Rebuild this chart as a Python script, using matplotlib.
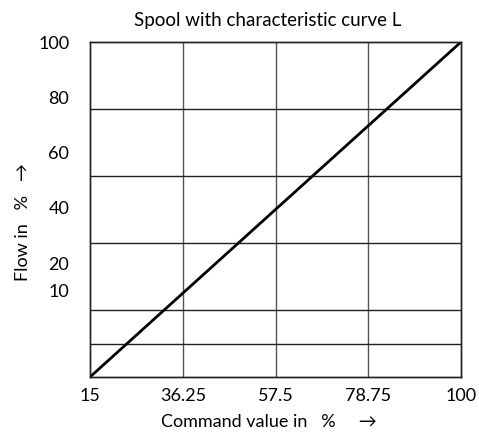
import matplotlib.pyplot as plt

# characteristic curve L: flow follows command linearly from 15 % to 100 %
command = [15, 100]
flow = [0, 100]

x_ticks = [15, 36.25, 57.5, 78.75, 100]
grid_rows = [0, 10, 20, 40, 60, 80, 100]
y_labels = [10, 20, 40, 60, 80, 100]

plt.rcParams['font.family'] = ['Lato', 'DejaVu Sans']

fig = plt.figure(figsize=(4.79, 4.36), dpi=100)
ax = fig.add_axes([90 / 479, 59 / 436, 371 / 479, 335 / 436])

ax.set_xlim(15, 100)
ax.set_ylim(0, 100)

for v in x_ticks[1:-1]:
    ax.axvline(v, color='#555555', linewidth=1, zorder=1)
for v in grid_rows[1:-1]:
    ax.axhline(v, color='#222222', linewidth=1, zorder=1)

ax.plot(command, flow, color='black', linewidth=2, zorder=3, solid_capstyle='butt')

ax.set_xticks(x_ticks)
ax.set_xticklabels(['15', '36.25', '57.5', '78.75', '100'])
ax.tick_params(axis='x', length=0, pad=8, labelsize=13)
ax.set_yticks([])

# the value labels on the left sit on their own scale
lab = ax.twinx()
lab.set_ylim(-21.2, 100)
lab.yaxis.tick_left()
lab.set_yticks(y_labels)
lab.tick_params(axis='y', length=0, pad=15, labelsize=13)

for a in (ax, lab):
    for s in a.spines.values():
        s.set_color('#222222')
        s.set_linewidth(1)

fig.text(268 / 479, 0.953, 'Spool with characteristic curve L', ha='center', va='center', fontsize=13.5)
fig.text(269 / 479, 0.032, 'Command value in   %     \u2192', ha='center', va='center', fontsize=13,
         family=['Lato', 'DejaVu Sans'])
fig.text(23 / 479, 1 - 222 / 436, 'Flow in   %   \u2192', ha='center', va='center', rotation=90,
         fontsize=13, family=['Lato', 'DejaVu Sans'])

fig.savefig('out.png', dpi=100)
